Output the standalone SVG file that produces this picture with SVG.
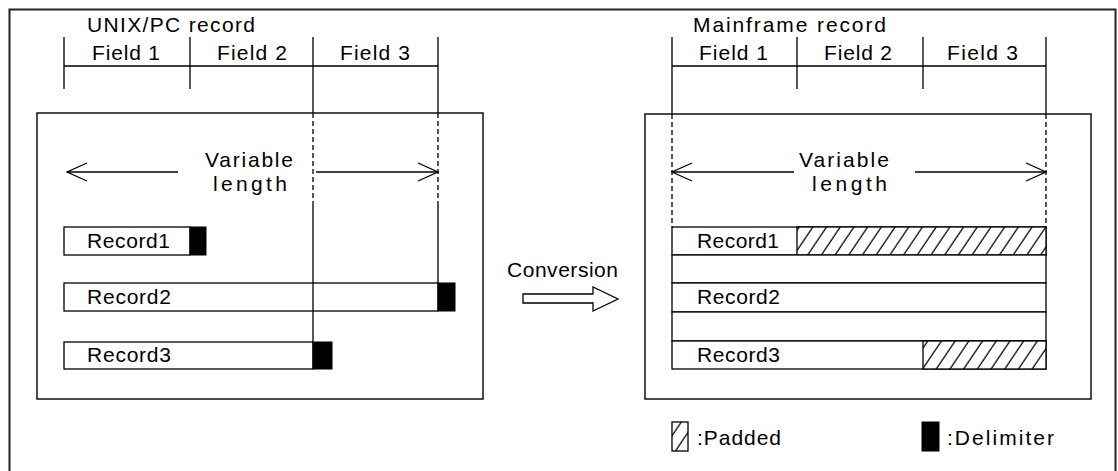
<svg xmlns="http://www.w3.org/2000/svg" width="1118" height="471" viewBox="0 0 1118 471">
  <style>
    .ln { stroke: #000; stroke-width: 1.3; fill: none; }
    .dash { stroke: #000; stroke-width: 1.3; fill: none; stroke-dasharray: 5 3; }
    .box { stroke: #000; stroke-width: 1.3; fill: #fff; }
    .frame { stroke: #222; stroke-width: 2; fill: none; }
    .panel { stroke: #111; stroke-width: 1.5; fill: none; }
    .delim { fill: #000; stroke: #000; stroke-width: 1; }
    .hatch { fill: url(#hatch); stroke: #000; stroke-width: 1.3; }
    text { font-family: "Liberation Sans", Arial, sans-serif; font-size: 21px; fill: #000; }
  </style>
  <defs>
    <pattern id="hatch" patternUnits="userSpaceOnUse" width="13.7" height="28" patternTransform="skewX(-34)">
      <rect x="-1" y="-1" width="16" height="30" fill="#fff"/>
      <line x1="7" y1="-2" x2="7" y2="30" stroke="#000" stroke-width="1.5"/>
    </pattern>
    <marker id="open" markerUnits="userSpaceOnUse" markerWidth="24" markerHeight="22" viewBox="-22 -11 24 22" refX="0" refY="0" orient="auto" overflow="visible">
      <path d="M-20,-9 L0,0 L-20,9" fill="none" stroke="#000" stroke-width="1.3"/>
    </marker>
  </defs>
  <rect width="1118" height="471" fill="#fff"/>
  <rect class="frame" x="9.5" y="9.5" width="1106" height="480"/>

  <g id="unix-record">
    <text x="87" y="32" textLength="168" lengthAdjust="spacing">UNIX/PC record</text>
    <path class="ln" d="M64,37 V89 M190,37 V89 M64,66 H438 M313,37 V113 M438,37 V113"/>
    <text x="92" y="60" textLength="68" lengthAdjust="spacing">Field 1</text>
    <text x="217" y="60" textLength="70" lengthAdjust="spacing">Field 2</text>
    <text x="340" y="60" textLength="70" lengthAdjust="spacing">Field 3</text>
    <rect class="panel" x="37" y="113" width="446" height="286"/>
    <text x="205" y="167" textLength="88" lengthAdjust="spacing">Variable</text>
    <text x="213" y="191" textLength="74" lengthAdjust="spacing">length</text>
    <rect class="box" x="64" y="227" width="126" height="28"/>
    <rect class="delim" x="190" y="227" width="16" height="28"/>
    <text x="87" y="248" textLength="83" lengthAdjust="spacing">Record1</text>
    <rect class="box" x="64" y="283" width="374" height="28"/>
    <rect class="delim" x="438" y="283" width="17" height="28"/>
    <text x="87" y="304" textLength="84" lengthAdjust="spacing">Record2</text>
    <rect class="box" x="64" y="342" width="249" height="27"/>
    <rect class="delim" x="313" y="342" width="19" height="27"/>
    <text x="87" y="362" textLength="84" lengthAdjust="spacing">Record3</text>
    <path class="dash" d="M313,113 V203 M438,113 V203"/>
    <path class="ln" d="M313,203 V342 M438,203 V283"/>
  </g>

  <g id="conversion">
    <text x="507" y="277" textLength="111" lengthAdjust="spacing">Conversion</text>
    <polygon class="ln" points="523,294 593,294 593,287 618,299 593,311 593,303 523,303"/>
  </g>

  <g id="mainframe-record">
    <text x="693" y="32" textLength="193" lengthAdjust="spacing">Mainframe record</text>
    <path class="ln" d="M672,37 V114 M797,37 V89 M923,37 V89 M1046,37 V114 M672,66 H1046"/>
    <text x="699" y="60" textLength="69" lengthAdjust="spacing">Field 1</text>
    <text x="824" y="60" textLength="68" lengthAdjust="spacing">Field 2</text>
    <text x="947" y="60" textLength="71" lengthAdjust="spacing">Field 3</text>
    <rect class="panel" x="645" y="114" width="446" height="285"/>
    <path class="dash" d="M672,114 V227 M1046,114 V227"/>
    <text x="799" y="167" textLength="90" lengthAdjust="spacing">Variable</text>
    <text x="812" y="191" textLength="75" lengthAdjust="spacing">length</text>
    <rect class="box" x="672" y="227" width="374" height="28"/>
    <rect class="hatch" x="797" y="227" width="249" height="28"/>
    <text x="697" y="248" textLength="82" lengthAdjust="spacing">Record1</text>
    <rect class="box" x="672" y="255" width="374" height="28"/>
    <rect class="box" x="672" y="283" width="374" height="29"/>
    <text x="697" y="304" textLength="83" lengthAdjust="spacing">Record2</text>
    <rect class="box" x="672" y="312" width="374" height="29"/>
    <rect class="box" x="672" y="341" width="374" height="28"/>
    <rect class="hatch" x="923" y="341" width="123" height="28"/>
    <text x="697" y="362" textLength="83" lengthAdjust="spacing">Record3</text>
  </g>

  <g id="legend">
    <rect class="hatch" x="672" y="422" width="16" height="29"/>
    <text x="697" y="445" textLength="84" lengthAdjust="spacing">:Padded</text>
    <rect class="delim" x="922" y="422" width="17" height="29"/>
    <text x="947" y="445" textLength="107" lengthAdjust="spacing">:Delimiter</text>
  </g>

  <g id="connectors">
    <line class="ln" x1="178" y1="172" x2="67" y2="172" marker-end="url(#open)"/>
    <line class="ln" x1="316" y1="172" x2="438" y2="172" marker-end="url(#open)"/>
    <line class="ln" x1="794" y1="172" x2="672" y2="172" marker-end="url(#open)"/>
    <line class="ln" x1="915" y1="172" x2="1046" y2="172" marker-end="url(#open)"/>
  </g>
</svg>
